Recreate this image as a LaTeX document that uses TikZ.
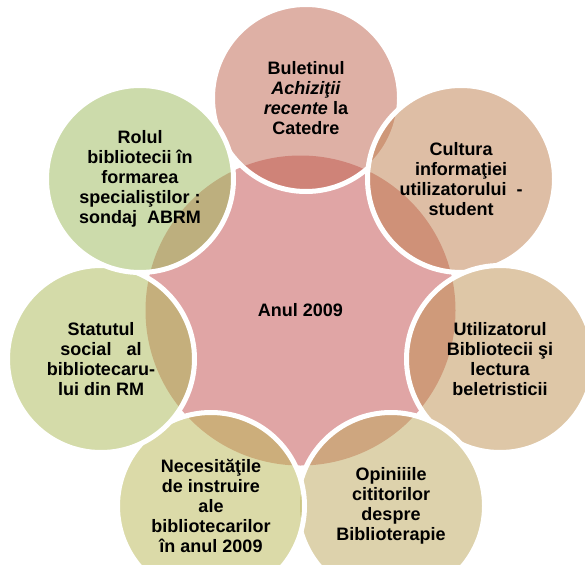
\documentclass[tikz,border=0pt]{standalone}
\usepackage{fontspec}
\setmainfont{Liberation Sans}
\definecolor{cCenter}{RGB}{224,165,165}
\definecolor{cTop}{RGB}{191,99,77}
\definecolor{cCult}{RGB}{191,127,77}
\definecolor{cUtil}{RGB}{191,145,81}
\definecolor{cOpin}{RGB}{189,167,91}
\definecolor{cNec}{RGB}{185,183,83}
\definecolor{cStat}{RGB}{171,185,85}
\definecolor{cRol}{RGB}{155,185,89}
\tikzset{
  outer/.style={circle, inner sep=0pt, minimum size=187pt, fill=#1, fill opacity=0.5, draw=white, line width=5pt},
  lbl/.style={align=center, font=\fontsize{18}{20}\selectfont\bfseries, text=black, inner sep=0pt}
}
\begin{document}
\begin{tikzpicture}[x=1pt,y=-1pt]
\useasboundingbox (0,0) rectangle (585,564);
\fill[white] (0,0) rectangle (585,564);
\node[circle, inner sep=0pt, minimum size=310pt, fill=cCenter] (c) at (300.5,310.5) {};
\node[outer=cTop]  (top)  at (306,98) {};
\node[outer=cCult] (cult) at (461,179) {};
\node[outer=cUtil] (util) at (500,359) {};
\node[outer=cOpin] (opin) at (391,506) {};
\node[outer=cNec]  (nec)  at (211,506) {};
\node[outer=cStat] (stat) at (101,359) {};
\node[outer=cRol]  (rol)  at (140,179) {};
\node[lbl] (tc) at (c.center) {Anul 2009};
\node[lbl] (ttop) at (top.center) {Buletinul\\ \textit{Achiziţii}\\ \textit{recente} la\\ Catedre};
\node[lbl] (tcult) at (cult.center) {Cultura\\ informaţiei\\ utilizatorului \ -\\ student};
\node[lbl] (tutil) at (util.center) {Utilizatorul\\ Bibliotecii şi\\ lectura\\ beletristicii};
\node[lbl] (topin) at (opin.center) {Opiniiile\\ cititorilor\\ despre\\ Biblioterapie};
\node[lbl] (tnec) at (nec.center) {Necesităţile\\ de instruire\\ ale\\ bibliotecarilor\\ în anul 2009};
\node[lbl] (tstat) at (stat.center) {Statutul\\ social \ \ al\\ bibliotecaru-\\ lui din RM};
\node[lbl] (trol) at (rol.center) {Rolul\\ bibliotecii în\\ formarea\\ specialiştilor :\\ sondaj \ ABRM};
\end{tikzpicture}
\end{document}
